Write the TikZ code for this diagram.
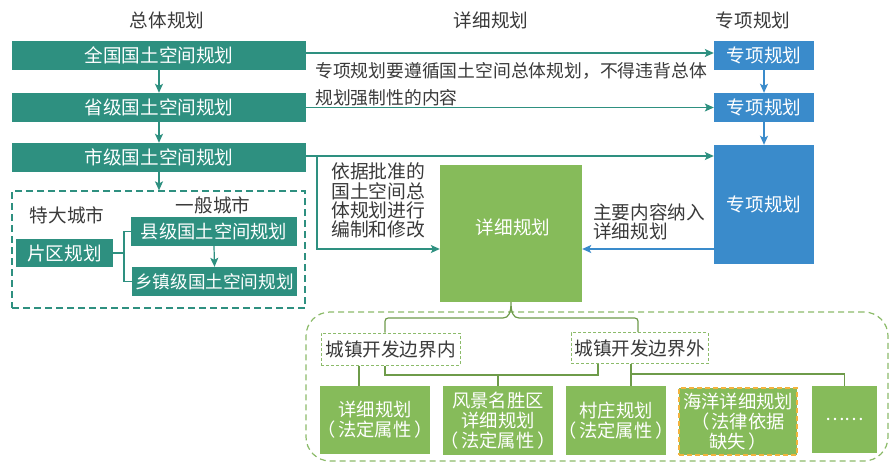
\documentclass[tikz,border=0pt]{standalone}
\usepackage{fontspec}
\setmainfont{Noto Sans CJK SC}
\usetikzlibrary{arrows.meta,calc}
\definecolor{teal1}{HTML}{2E9080}
\definecolor{blue1}{HTML}{3A8BCB}
\definecolor{green1}{HTML}{86BB5A}
\definecolor{olive1}{HTML}{6E9B4A}
\definecolor{dgreen}{HTML}{8CBB6A}
\definecolor{orange1}{HTML}{F2B33D}
\definecolor{txt}{HTML}{3A3A3A}
\newcommand\widebox[1]{\makebox[0pt]{#1}}
\tikzset{
  lbl/.style={text=txt, inner sep=0pt},
  tbox/.style={fill=teal1, text=white, inner sep=0pt},
  bbox/.style={fill=blue1, text=white, inner sep=0pt},
  gbox/.style={fill=green1, text=white, inner sep=0pt, align=center, font=\fontsize{18.3}{20}\selectfont},
  dbox/.style={draw=dgreen, line width=1pt, dash pattern=on 3pt off 2pt, fill=white, text=txt, inner sep=0pt},
  tip/.style={-{Stealth[length=9pt,width=8pt,inset=2pt]}},
  tline/.style={draw=teal1, line width=1.2pt},
  tarrow/.style={tline, tip},
  bline/.style={draw=blue1, line width=1.2pt},
  barrow/.style={bline, tip},
  oline/.style={draw=olive1, line width=1.2pt},
}
\begin{document}
\begin{tikzpicture}[x=1pt,y=-1pt,font=\fontsize{18.6}{20}\selectfont]
\useasboundingbox (0,0) rectangle (893,463);
\fill[white] (0,0) rectangle (893,463);

% titles
\node[lbl] (t1) at (167,20) {总体规划};
\node[lbl] (t2) at (491,20) {详细规划};
\node[lbl] (t3) at (753,20) {专项规划};

% overall plans
\node[tbox, minimum width=294, minimum height=29] (qg) at (159,55.5) {全国国土空间规划};
\node[tbox, minimum width=294, minimum height=29] (sj) at (159,107.5) {省级国土空间规划};
\node[tbox, minimum width=294, minimum height=29] (shi) at (159,157.5) {市级国土空间规划};
\draw[tarrow] (qg.south) -- (sj.north);
\draw[tarrow] (sj.south) -- (shi.north);

% special plans
\node[bbox, minimum width=100, minimum height=29] (zx1) at (764,55.5) {专项规划};
\node[bbox, minimum width=100, minimum height=29] (zx2) at (764,107.5) {专项规划};
\node[bbox, minimum width=100, minimum height=119] (zx3) at (764,204.5) {专项规划};
\draw[barrow] (zx1.south) -- (zx2.north);
\draw[barrow] (zx2.south) -- (zx3.north);

% detailed plan
\node[fill=green1, inner sep=0pt, minimum width=142, minimum height=137] (xx) at (511,233.5) {};
\node[text=white, inner sep=0pt] (xxt) at (513,227) {详细规划};

% horizontal arrows
\draw[tarrow] ([yshift=2.5pt]qg.east) -- ([yshift=2.5pt]qg.east -| zx1.west);
\draw[tarrow] (sj.east) -- (sj.east -| zx2.west);
\draw[tarrow] ([yshift=1.5pt]shi.east) -- ([yshift=1.5pt]shi.east -| zx3.west);
\coordinate (brc) at (317,156);
\draw[tarrow] (brc) |- ([yshift=-15.5pt]xx.west);
\draw[barrow] ([yshift=-15.5pt]xx.east -| zx3.west) -- ([yshift=-15.5pt]xx.east);

% notes
\node[lbl, anchor=west, align=left, font=\fontsize{17.8}{26.5}\selectfont] (n1) at (315,84.5)
  {专项规划要遵循国土空间总体规划，不得违背总体\\规划强制性的内容};
\node[lbl, anchor=west, align=left, font=\fontsize{18.8}{19.2}\selectfont] (n2) at (331,200.5)
  {依据批准的\\国土空间总\\体规划进行\\编制和修改};
\node[lbl, anchor=west, align=left, font=\fontsize{18.6}{19}\selectfont] (n3) at (593,221.5)
  {主要内容纳入\\详细规划};

% city level dashed group
\node[draw=teal1, line width=1.2pt, dash pattern=on 7pt off 4pt, minimum width=293, minimum height=117, inner sep=0pt] (db) at (158.5,249.5) {};
\draw[tarrow] (shi.south) -- (db.north -| shi.south);
\node[lbl] (tdcs) at (67,215) {特大城市};
\node[lbl] (ybcs) at (213,205) {一般城市};
\node[tbox, minimum width=97, minimum height=28] (pq) at (64.5,253) {片区规划};
\node[tbox, minimum width=166, minimum height=29, font=\fontsize{18.3}{20}\selectfont] (xj) at (214,231.5) {县级国土空间规划};
\node[tbox, minimum width=165, minimum height=29, font=\fontsize{17.6}{19}\selectfont] (xz) at (214.5,281.5) {乡镇级国土空间规划};
\coordinate (pj) at (124,253);
\draw[tline] (pq.east) -- (pj);
\draw[tline] (xj.west) -| (pj) |- (xz.west);
\draw[tarrow] (xj.south) -- (xz.north);

% bottom group
\node[draw=dgreen, line width=1.2pt, dash pattern=on 6pt off 4pt, rounded corners=24pt, minimum width=582, minimum height=149, inner sep=0pt] (outer) at (597,386.5) {};
\node[dbox, minimum width=139, minimum height=32] (nei) at (390.5,349) {城镇开发边界内};
\node[dbox, minimum width=137, minimum height=31] (wai) at (639.5,348) {城镇开发边界外};

\draw[oline] ([xshift=-5.5pt]nei.north) -- (385,325) .. controls (385,318) .. (392,318) -- (503,318)
  .. controls (509,318) and (511,312) .. (xx.south)
  .. controls (511,312) and (513,318) .. (519,318) -- (631,318) .. controls (638,318) .. (638,325)
  -- ([xshift=-1.5pt]wai.north);

\node[gbox, minimum width=110, minimum height=68] (b1) at (375,420) {详细规划\\\widebox{（\hspace{2.5pt}法定属性\hspace{2.5pt}）}};
\node[gbox, minimum width=110, minimum height=69] (b2) at (498,420.5) {风景名胜区\\详细规划\\\widebox{（\hspace{2.5pt}法定属性\hspace{2.5pt}）}};
\node[gbox, minimum width=100, minimum height=69] (b3) at (616,420.5) {村庄规划\\\widebox{（\hspace{2.5pt}法定属性\hspace{2.5pt}）}};
\node[gbox, draw=orange1, line width=1.5pt, dash pattern=on 5pt off 3pt, minimum width=118, minimum height=67] (b4) at (738,421.5) {海洋详细规划\\（\hspace{2pt}法律依据\\缺失\hspace{2pt}）};
\node[gbox, minimum width=65, minimum height=67] (b5) at (844.5,419.5) {……};

\coordinate (hl) at (0,375);
\coordinate (hl2) at (0,374);
\draw[oline] ([xshift=-31.5pt]nei.south) -- ([xshift=-31.5pt]nei.south |- b1.north);
\draw[oline] ([xshift=-5.5pt]nei.south) |- (hl -| b2.north) -| ([xshift=-41.5pt]wai.south);
\draw[oline] (hl -| b2.north) -- (b2.north);
\draw[oline] ([xshift=-8.5pt]wai.south) -- ([xshift=-8.5pt]wai.south |- b3.north);
\draw[oline] ([xshift=-8.5pt]wai.south |- hl2) -| (b5.north);
\end{tikzpicture}
\end{document}
